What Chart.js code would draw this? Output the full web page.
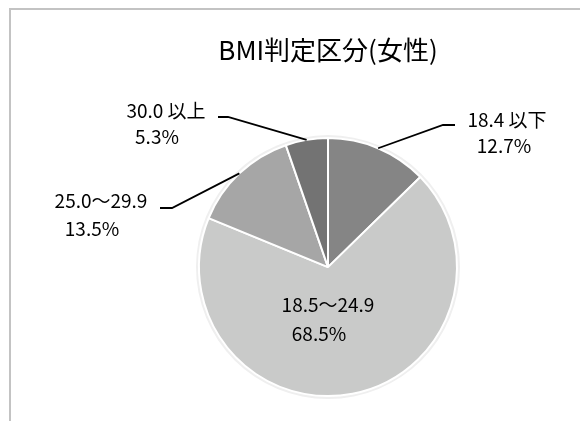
<!DOCTYPE html>
<html>
<head>
<meta charset="utf-8">
<script src="https://cdn.jsdelivr.net/npm/chart.js@4"></script>
<style>
html, body { margin: 0; padding: 0; background: #fff; overflow: hidden; }
#frame { position: absolute; left: 9px; top: 8px; width: 700px; height: 600px;
  border-top: 2px solid #c3c3c3; border-left: 2px solid #c3c3c3; }
#c { position: absolute; left: 0; top: 0; }
</style>
</head>
<body>
<div id="frame"></div>
<canvas id="c" width="580" height="421"></canvas>
<script>
// data
var categories = ['18.4 以下', '18.5〜24.9', '25.0〜29.9', '30.0 以上'];
var shares = [12.7, 68.5, 13.5, 5.3];
var sliceColors = ['#858585', '#c9cac9', '#a6a6a6', '#737373'];

// where each label sits (line 1 / line 2 centres) and its leader elbow
var labelSpots = [
    { x1: 507, y1: 120, x2: 504, y2: 146, lead: [455, 443, 125] },
    { x1: 328, y1: 305, x2: 319, y2: 334 },
    { x1: 101, y1: 201, x2: 92, y2: 229, lead: [160, 172, 208] },
    { x1: 166, y1: 111, x2: 157, y2: 137, lead: [218, 228, 117] }
];

var fontFamily = '"Noto Sans CJK JP", sans-serif';

var pieExtras = {
    id: 'pieExtras',
    beforeDatasetsDraw: function (chart) {
        var arc = chart.getDatasetMeta(0).data[0];
        var ctx = chart.ctx;
        ctx.save();
        ctx.beginPath();
        ctx.arc(arc.x, arc.y, arc.outerRadius + 3, 0, Math.PI * 2);
        ctx.fillStyle = '#efefef';
        ctx.fill();
        ctx.restore();
    },
    afterDatasetsDraw: function (chart) {
        var ctx = chart.ctx;
        var arcs = chart.getDatasetMeta(0).data;
        ctx.save();
        ctx.strokeStyle = '#000';
        ctx.lineWidth = 1.8;
        arcs.forEach(function (arc, i) {
            var spot = labelSpots[i];
            if (spot.lead) {
                var mid = (arc.startAngle + arc.endAngle) / 2;
                var ex = arc.x + Math.cos(mid) * arc.outerRadius;
                var ey = arc.y + Math.sin(mid) * arc.outerRadius;
                ctx.beginPath();
                ctx.moveTo(spot.lead[0], spot.lead[2]);
                ctx.lineTo(spot.lead[1], spot.lead[2]);
                ctx.lineTo(ex, ey);
                ctx.stroke();
            }
            ctx.fillStyle = '#000';
            ctx.font = '19px ' + fontFamily;
            ctx.textAlign = 'center';
            ctx.textBaseline = 'middle';
            ctx.fillText(categories[i], spot.x1, spot.y1);
            ctx.fillText(shares[i].toFixed(1) + '%', spot.x2, spot.y2);
        });
        ctx.restore();
    }
};

var ctx = document.getElementById('c').getContext('2d');
var bmiChart = new Chart(ctx, {
    type: 'pie',
    data: {
        labels: categories,
        datasets: [{
            data: shares,
            backgroundColor: sliceColors,
            borderColor: '#ffffff',
            borderWidth: 2
        }]
    },
    options: {
        responsive: false,
        animation: false,
        devicePixelRatio: 1,
        radius: 129,
        layout: { padding: { left: 188, right: 112, top: 0, bottom: 23 } },
        plugins: {
            legend: { display: false },
            tooltip: { enabled: false },
            title: {
                display: true,
                text: 'BMI判定区分(女性)',
                color: '#000',
                font: { family: fontFamily, size: 26, weight: 'normal' },
                padding: { top: 35, bottom: 70 }
            }
        }
    },
    plugins: [pieExtras]
});
</script>
</body>
</html>
